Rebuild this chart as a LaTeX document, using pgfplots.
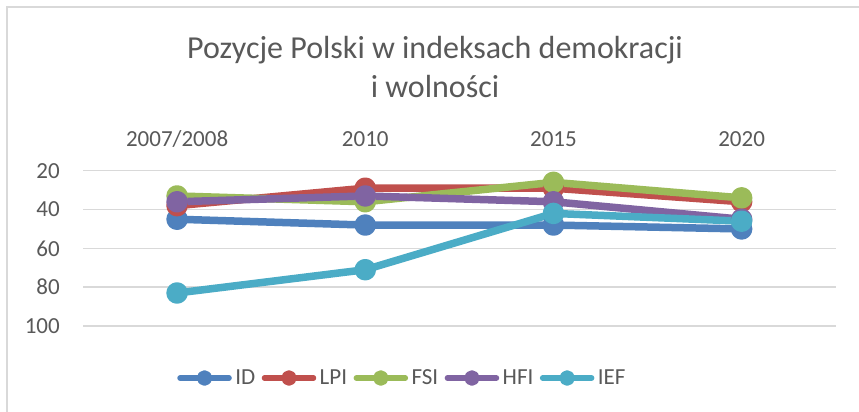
\documentclass[border=0pt]{standalone}
\usepackage{pgfplots}
\pgfplotsset{compat=1.18}
\usepackage{fontspec}
\setmainfont{Carlito}
\definecolor{txt}{HTML}{595959}
\definecolor{gridc}{HTML}{D9D9D9}
\definecolor{cID}{HTML}{4F81BD}
\definecolor{cLPI}{HTML}{C0504D}
\definecolor{cFSI}{HTML}{9BBB59}
\definecolor{cHFI}{HTML}{8064A2}
\definecolor{cIEF}{HTML}{4BACC6}
\pgfplotsset{ser/.style={color=#1, line width=7.5bp, line cap=round, line join=round, mark=*, mark size=7bp, mark options={draw=none, fill=#1}}}
\begin{document}
\begin{tikzpicture}
\useasboundingbox (0,0) rectangle (859bp,412bp);
\fill[white] (0,0) rectangle (859bp,412bp);
\draw[gridc, line width=1.5bp] (7bp,-5bp) -- (7bp,405bp) -- (870bp,405bp);
\node[anchor=base, inner sep=0pt, font=\fontsize{32bp}{38bp}\selectfont, text=txt] at (435bp,353.7bp) {Pozycje Polski w indeksach demokracji};
\node[anchor=base, inner sep=0pt, font=\fontsize{32bp}{38bp}\selectfont, text=txt] at (435bp,314.7bp) {i wolności};
\begin{axis}[
  at={(83bp,86bp)}, anchor=south west, scale only axis,
  width=752.7bp, height=155.3bp,
  xmin=-0.5, xmax=3.5, ymin=20, ymax=100, y dir=reverse,
  xtick={0,1,2,3}, xticklabels={2007/2008,2010,2015,2020},
  xticklabel pos=right,
  ytick={20,40,60,80,100},
  /pgf/number format/assume math mode=true,
  axis line style={draw=none}, major tick length=0pt,
  ymajorgrids, grid style={gridc, line width=1.5bp},
  tick label style={font=\fontsize{23bp}{28bp}\selectfont, text=txt},
  xticklabel style={anchor=base, inner sep=0pt, yshift=24bp},
  yticklabel style={anchor=east, inner sep=0pt, xshift=-23bp},
  clip=false,
  legend columns=5,
  legend style={at={(0.423,-0.335)}, anchor=center, draw=none, fill=none,
    font=\fontsize{23bp}{28bp}\selectfont, text=txt,
    nodes={inner sep=0pt},
    /tikz/every odd column/.append style={column sep=3.5bp},
    /tikz/every even column/.append style={column sep=6.5bp}},
  legend image code/.code={\draw[#1, line width=5.5bp, mark size=5bp, mark repeat=2, mark phase=2] plot coordinates {(0bp,0bp) (24.5bp,0bp) (49bp,0bp)};},
]
\addplot[ser=cID] coordinates {(0,45) (1,48) (2,48) (3,50)};
\addlegendentry{ID}
\addplot[ser=cLPI] coordinates {(0,38) (1,29) (2,29) (3,36)};
\addlegendentry{LPI}
\addplot[ser=cFSI] coordinates {(0,33) (1,36) (2,26) (3,34)};
\addlegendentry{FSI}
\addplot[ser=cHFI] coordinates {(0,36) (1,33) (2,36) (3,45)};
\addlegendentry{HFI}
\addplot[ser=cIEF] coordinates {(0,83) (1,71) (2,42) (3,46)};
\addlegendentry{IEF}
\end{axis}
\end{tikzpicture}
\end{document}
